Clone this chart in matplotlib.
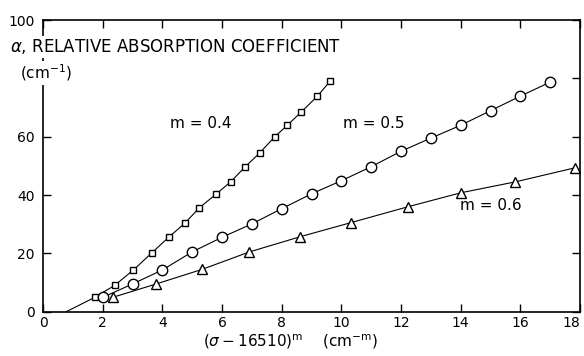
import numpy as np
import matplotlib
matplotlib.use('Agg')
import matplotlib.pyplot as plt

plt.rcParams['font.family'] = ['DejaVu Sans']

# m = 0.4 (squares)
sq_x = [1.73, 2.40, 3.03, 3.65, 4.21, 4.75, 5.24, 5.80, 6.29, 6.76, 7.27, 7.77, 8.19, 8.66, 9.20, 9.62]
sq_y = [4.9, 9.0, 14.3, 20.2, 25.5, 30.3, 35.6, 40.3, 44.5, 49.5, 54.5, 60.0, 63.9, 68.5, 73.9, 79.0]
# extrapolated intercept of the m = 0.4 line
sq_x0 = 0.78

# m = 0.5 (circles)
ci_x = [2, 3, 4, 5, 6, 7, 8, 9, 10, 11, 12, 13, 14, 15, 16, 17]
ci_y = [4.9, 9.5, 14.3, 20.5, 25.5, 30.1, 35.3, 40.4, 44.9, 49.7, 55.0, 59.5, 63.9, 68.9, 73.9, 78.7]

# m = 0.6 (triangles)
tr_x = [2.33, 3.79, 5.33, 6.92, 8.62, 10.31, 12.24, 14.02, 15.83, 17.82]
tr_y = [4.9, 9.5, 14.5, 20.5, 25.7, 30.5, 36.0, 40.8, 44.5, 49.3]

x_ticks = [0, 2, 4, 6, 8, 10, 12, 14, 16, 18]
y_ticks = [0, 20, 40, 60, 80, 100]
y_labels = ['0', '20', '40', '60', '', '100']

fig = plt.figure(figsize=(5.84, 3.56), dpi=100)
ax = fig.add_axes([43 / 584, 44.3 / 356, 537 / 584, 291.7 / 356])

ax.plot([sq_x0, sq_x[0]], [0, sq_y[0]], color='black', lw=0.8)
ax.plot(sq_x, sq_y, color='black', lw=0.8, marker='s', ms=5,
        mfc='white', mec='black', mew=1.0)
ax.plot(ci_x, ci_y, color='black', lw=0.8, marker='o', ms=7.5,
        mfc='white', mec='black', mew=1.0)
ax.plot(tr_x, tr_y, color='black', lw=0.8, marker='^', ms=7,
        mfc='white', mec='black', mew=1.0)

ax.set_xlim(0, 18)
ax.set_ylim(0, 100)
ax.set_xticks(x_ticks)
ax.set_xticklabels([str(t) for t in x_ticks], fontsize=10)
ax.get_xticklabels()[-1].set_ha('right')
ax.set_yticks(y_ticks)
ax.set_yticklabels(y_labels, fontsize=10)
ax.tick_params(axis='x', direction='in', length=6, width=1, top=True, pad=3)
ax.tick_params(axis='y', direction='in', length=6, width=1, right=True, pad=6)
for s in ax.spines.values():
    s.set_linewidth(1.2)

ax.text(5.3, 64.5, 'm = 0.4', fontsize=11, ha='center', va='center')
ax.text(11.1, 64.5, 'm = 0.5', fontsize=11, ha='center', va='center')
ax.text(15.0, 36.5, 'm = 0.6', fontsize=11, ha='center', va='center')

fig.text(10 / 584, 1 - 47 / 356, r'$\alpha$, RELATIVE ABSORPTION COEFFICIENT',
         fontsize=12, ha='left', va='center',
         bbox=dict(facecolor='white', edgecolor='none', pad=1))
fig.text(20 / 584, 1 - 73 / 356, r'(cm$^{-1}$)', fontsize=11,
         ha='left', va='center',
         bbox=dict(facecolor='white', edgecolor='none', pad=1))

fig.text(290 / 584, 1 - 342 / 356, r'$(\sigma-16510)^{\mathrm{m}}$    (cm$^{-\mathrm{m}}$)',
         fontsize=11, ha='center', va='center')

fig.savefig('out.png', dpi=100)
